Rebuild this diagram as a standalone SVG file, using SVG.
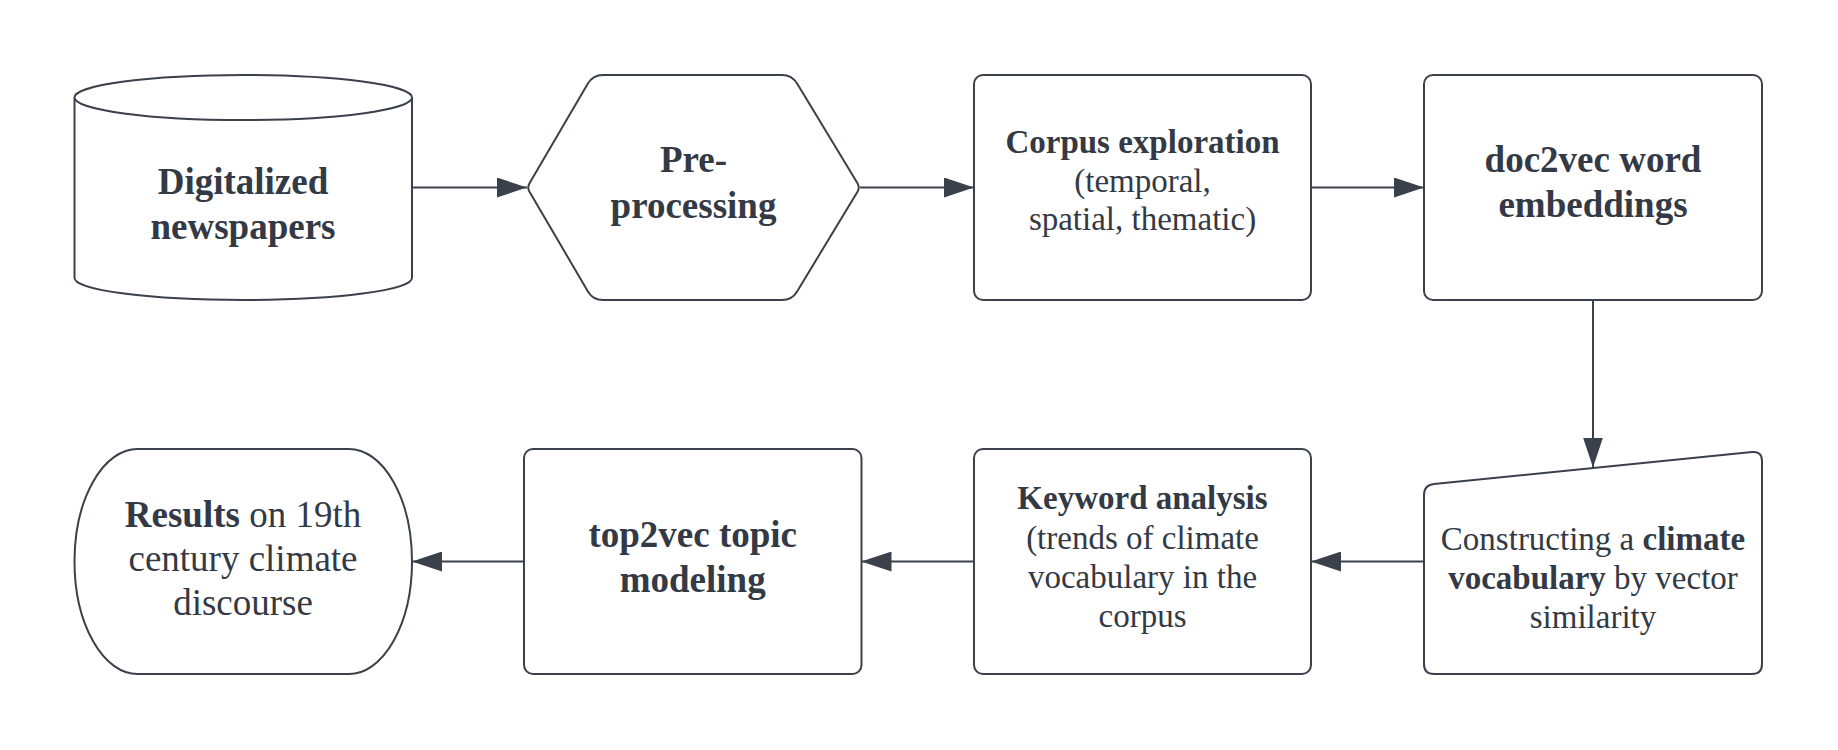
<svg xmlns="http://www.w3.org/2000/svg" width="1838" height="750" viewBox="0 0 1838 750">
<style>
  .shape { fill: #ffffff; stroke: #3a414a; stroke-width: 2; }
  .conn { fill: none; stroke: #3a414a; stroke-width: 2; }
  text { font-family: "Liberation Serif", "DejaVu Serif", serif; fill: #333a45; text-anchor: middle; }
  .title { font-size: 37px; font-weight: bold; }
  .body { font-size: 33px; }
  .res { font-size: 37px; }
  .b { font-weight: bold; }
</style>
<defs>
  <marker id="arrow" viewBox="0 0 30 20" refX="30" refY="10" markerWidth="30" markerHeight="20" markerUnits="userSpaceOnUse" orient="auto">
    <path d="M0,0 L30,10 L0,20 Z" fill="#3a414a"/>
  </marker>
</defs>
<rect width="1838" height="750" fill="#ffffff"/>

<g id="connectors">
  <line class="conn" x1="412" y1="187.5" x2="527" y2="187.5" marker-end="url(#arrow)"/>
  <line class="conn" x1="860" y1="187.5" x2="974" y2="187.5" marker-end="url(#arrow)"/>
  <line class="conn" x1="1311" y1="187.5" x2="1424" y2="187.5" marker-end="url(#arrow)"/>
  <line class="conn" x1="1593" y1="300" x2="1593" y2="467.5" marker-end="url(#arrow)"/>
  <line class="conn" x1="1424" y1="561.5" x2="1311" y2="561.5" marker-end="url(#arrow)"/>
  <line class="conn" x1="974" y1="561.5" x2="861.5" y2="561.5" marker-end="url(#arrow)"/>
  <line class="conn" x1="524" y1="561.5" x2="412" y2="561.5" marker-end="url(#arrow)"/>
</g>

<g id="node-newspapers">
  <path class="shape" d="M74.5,97.5 L74.5,278 A168.75,22 0 0 0 412,278 L412,97.5 A168.75,22.5 0 0 0 74.5,97.5 Z"/>
  <path class="shape" d="M74.5,97.5 A168.75,22.5 0 0 0 412,97.5"/>
  <text class="title" x="243" y="194">Digitalized</text>
  <text class="title" x="243" y="239">newspapers</text>
</g>

<g id="node-preprocessing">
  <path class="shape" d="M603,75 L782,75 Q792,75 797.1,83.6 L857.5,183.2 Q860,187.5 857.5,191.8 L797.1,291.4 Q792,300 782,300 L603,300 Q593,300 587.9,291.4 L529.5,191.8 Q527,187.5 529.5,183.2 L587.9,83.6 Q593,75 603,75 Z"/>
  <text class="title" x="693.5" y="172">Pre-</text>
  <text class="title" x="693.5" y="218">processing</text>
</g>

<g id="node-corpus">
  <rect class="shape" x="974" y="75" width="337" height="225" rx="9" ry="9"/>
  <text class="body" x="1142.5" y="153"><tspan class="b">Corpus exploration</tspan></text>
  <text class="body" x="1142.5" y="191.5">(temporal,</text>
  <text class="body" x="1142.5" y="230">spatial, thematic)</text>
</g>

<g id="node-doc2vec">
  <rect class="shape" x="1424" y="75" width="338" height="225" rx="9" ry="9"/>
  <text class="title" x="1593" y="172">doc2vec word</text>
  <text class="title" x="1593" y="217">embeddings</text>
</g>

<g id="node-vocabulary">
  <path class="shape" d="M1424,495 Q1424,485 1434,484 L1752,452 Q1762,451 1762,461 L1762,664 Q1762,674 1752,674 L1434,674 Q1424,674 1424,664 Z"/>
  <text class="body" x="1593" y="550">Constructing a <tspan class="b">climate</tspan></text>
  <text class="body" x="1593" y="589"><tspan class="b">vocabulary</tspan> by vector</text>
  <text class="body" x="1593" y="628">similarity</text>
</g>

<g id="node-keyword">
  <rect class="shape" x="974" y="449" width="337" height="225" rx="9" ry="9"/>
  <text class="body" x="1142.5" y="509"><tspan class="b">Keyword analysis</tspan></text>
  <text class="body" x="1142.5" y="549">(trends of climate</text>
  <text class="body" x="1142.5" y="588">vocabulary in the</text>
  <text class="body" x="1142.5" y="627">corpus</text>
</g>

<g id="node-top2vec">
  <rect class="shape" x="524" y="449" width="337.5" height="225" rx="9" ry="9"/>
  <text class="title" x="692.7" y="547">top2vec topic</text>
  <text class="title" x="692.7" y="592">modeling</text>
</g>

<g id="node-results">
  <rect class="shape" x="74.5" y="449" width="337.5" height="225" rx="63" ry="112.5"/>
  <text class="res" x="243" y="527"><tspan class="b">Results</tspan> on 19th</text>
  <text class="res" x="243" y="571">century climate</text>
  <text class="res" x="243" y="615">discourse</text>
</g>
</svg>
